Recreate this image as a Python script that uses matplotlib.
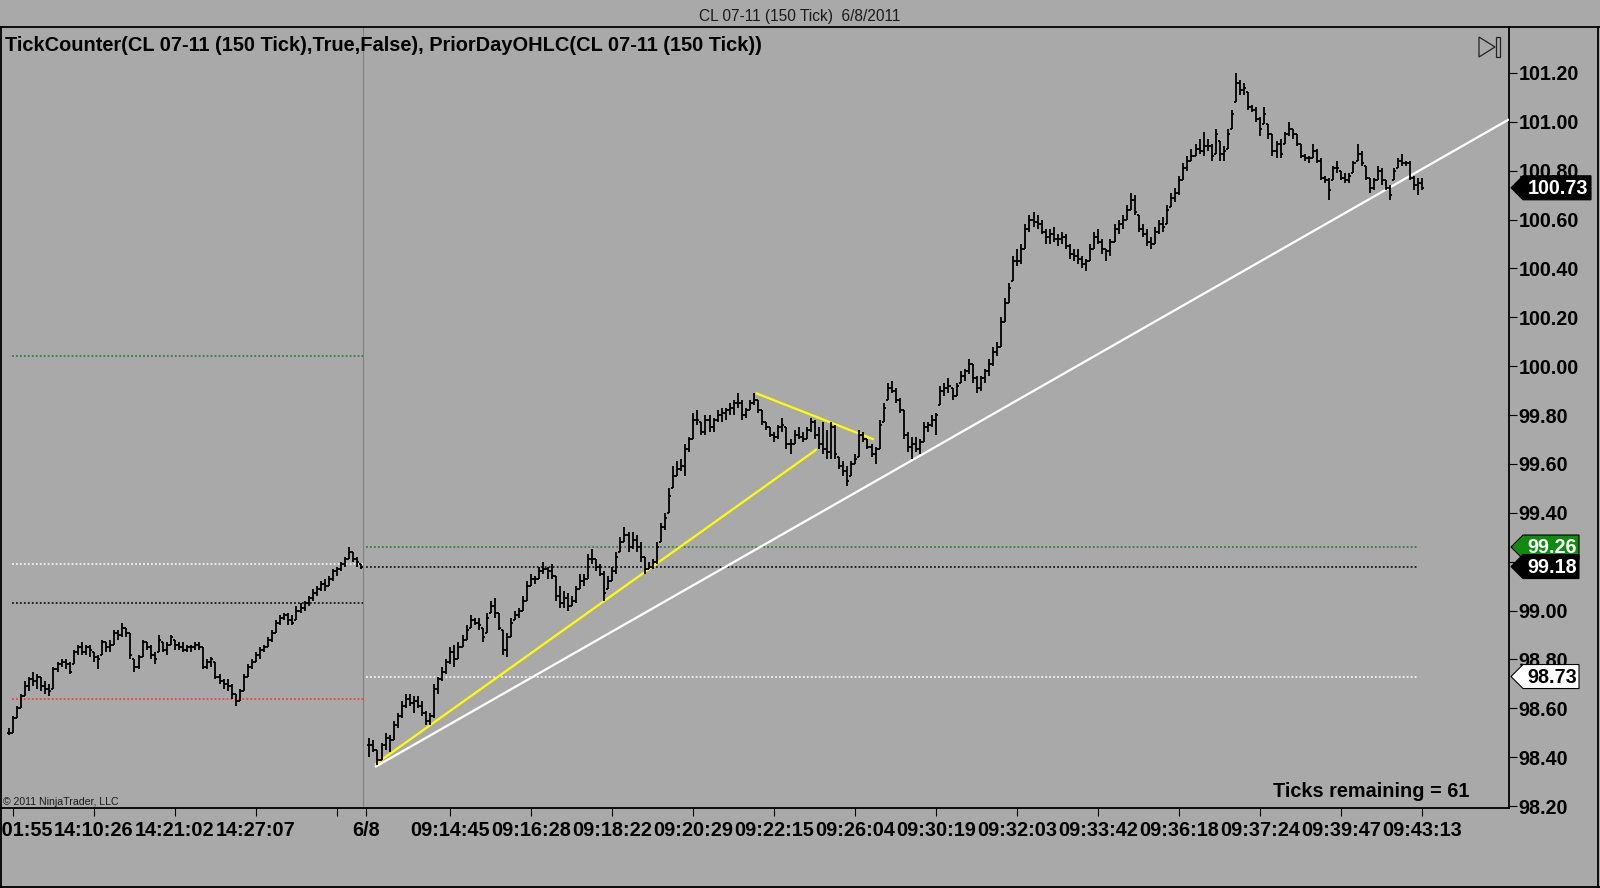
import matplotlib
matplotlib.use("Agg")
import matplotlib.pyplot as plt
from matplotlib.collections import LineCollection
from matplotlib.patches import Polygon, Rectangle
from matplotlib.lines import Line2D
from matplotlib.transforms import IdentityTransform
import numpy as np

plt.rcParams['font.family'] = ['Liberation Sans', 'DejaVu Sans']

# ---------------- data (prices in cents above 98.00) ----------------
BASE = 98.0
# prior session (6/7) 150-tick bars
HI_PREV = [52, 57, 61, 66, 71, 73, 75, 74, 73, 71,
           70, 77, 79, 80, 80, 79, 84, 86, 87, 86,
           86, 83, 82, 88, 87, 88, 92, 92, 95, 93,
           91, 80, 82, 88, 87, 86, 83, 90, 87, 87,
           90, 88, 87, 87, 86, 86, 87, 87, 85, 80,
           81, 79, 74, 72, 72, 70, 66, 68, 74, 78,
           80, 83, 85, 86, 89, 92, 96, 98, 99, 99,
           98, 102, 103, 104, 106, 109, 110, 112, 113, 114,
           117, 118, 120, 122, 126, 124, 122, 119]
LO_PREV = [49, 50, 56, 60, 65, 67, 69, 68, 67, 66,
           65, 68, 75, 77, 76, 74, 78, 82, 82, 82,
           81, 79, 76, 82, 83, 83, 86, 88, 89, 89,
           80, 75, 76, 81, 84, 80, 78, 83, 83, 82,
           86, 84, 84, 83, 83, 83, 84, 84, 76, 76,
           77, 72, 70, 68, 67, 64, 61, 63, 67, 73,
           76, 79, 80, 83, 85, 87, 91, 94, 96, 94,
           94, 96, 99, 100, 102, 104, 106, 108, 108, 110,
           112, 114, 116, 118, 121, 120, 118, 117]
CL_PREV = [50, 56, 60, 65, 69, 72, 71, 73, 69, 68,
           67, 76, 78, 79, 78, 75, 83, 85, 83, 85,
           84, 81, 80, 87, 85, 86, 91, 90, 93, 91,
           82, 77, 81, 87, 85, 82, 80, 88, 84, 86,
           89, 86, 85, 84, 85, 85, 86, 85, 77, 79,
           80, 73, 71, 70, 69, 66, 63, 67, 73, 77,
           79, 82, 84, 85, 88, 91, 95, 97, 98, 96,
           95, 100, 101, 103, 105, 107, 109, 111, 110, 113,
           116, 117, 119, 121, 124, 121, 120, 118]

# current session (6/8) 150-tick bars
HI_CUR = [48, 47, 43, 46, 50, 49, 55, 58, 63, 66,
          66, 65, 65, 63, 59, 58, 70, 73, 77, 80,
          85, 86, 87, 90, 94, 98, 97, 97, 93, 99,
          104, 105, 99, 92, 91, 97, 100, 101, 106, 112,
          115, 114, 118, 120, 118, 119, 114, 110, 108, 107,
          106, 110, 115, 115, 123, 125, 121, 119, 116, 114,
          118, 124, 130, 134, 132, 132, 131, 128, 122, 120,
          121, 128, 136, 140, 150, 159, 161, 162, 168, 171,
          181, 182, 177, 180, 180, 179, 182, 183, 183, 185,
          186, 189, 186, 183, 186, 189, 186, 182, 177, 175,
          173, 176, 179, 175, 170, 174, 175, 173, 175, 179,
          178, 175, 177, 174, 177, 176, 163, 161, 159, 161,
          164, 174, 173, 170, 168, 167, 178, 185, 193, 194,
          191, 187, 182, 173, 171, 171, 170, 177, 177, 180,
          181, 192, 193, 195, 191, 193, 198, 199, 203, 201,
          196, 196, 199, 203, 208, 210, 220, 228, 234, 245,
          248, 250, 258, 262, 263, 262, 260, 256, 256, 257,
          254, 255, 254, 250, 248, 248, 245, 244, 250, 255,
          256, 252, 248, 252, 258, 260, 262, 266, 271, 270,
          262, 258, 256, 253, 257, 260, 261, 266, 271, 273,
          278, 283, 286, 289, 291, 293, 296, 293, 291, 297,
          292, 290, 297, 305, 320, 317, 316, 312, 307, 306,
          302, 306, 299, 295, 292, 293, 296, 300, 297, 295,
          291, 287, 286, 291, 289, 285, 278, 277, 282, 284,
          280, 279, 279, 284, 291, 288, 282, 277, 277, 282,
          281, 276, 274, 281, 285, 287, 284, 284, 278, 277,
          277]
LO_CUR = [40, 42, 37, 39, 43, 42, 47, 52, 56, 60,
          61, 58, 60, 57, 53, 53, 56, 66, 71, 74,
          78, 77, 80, 85, 88, 93, 94, 92, 87, 91,
          99, 97, 92, 82, 81, 89, 96, 97, 100, 104,
          110, 111, 113, 115, 113, 113, 104, 101, 101, 100,
          102, 103, 109, 110, 113, 119, 116, 114, 104, 109,
          112, 115, 124, 128, 124, 125, 124, 120, 115, 117,
          117, 119, 128, 133, 140, 150, 155, 157, 155, 165,
          170, 176, 172, 172, 173, 173, 177, 177, 178, 180,
          180, 183, 178, 179, 182, 184, 181, 176, 174, 171,
          169, 170, 173, 166, 164, 168, 170, 169, 170, 173,
          170, 166, 164, 162, 162, 162, 158, 155, 151, 155,
          160, 163, 169, 166, 163, 160, 166, 177, 186, 189,
          185, 181, 170, 165, 162, 165, 164, 169, 173, 175,
          172, 184, 188, 189, 186, 188, 193, 194, 197, 193,
          189, 190, 193, 196, 200, 204, 208, 218, 226, 235,
          241, 242, 248, 255, 257, 256, 254, 250, 250, 251,
          249, 250, 248, 244, 243, 242, 240, 239, 243, 248,
          250, 246, 243, 245, 251, 254, 256, 260, 264, 262,
          255, 253, 249, 248, 250, 254, 255, 258, 265, 267,
          270, 276, 280, 284, 286, 287, 286, 288, 284, 287,
          284, 284, 289, 297, 308, 311, 311, 305, 304, 300,
          294, 299, 293, 286, 285, 285, 291, 294, 293, 290,
          285, 284, 283, 285, 283, 276, 275, 268, 276, 279,
          276, 275, 275, 279, 284, 282, 276, 271, 272, 276,
          274, 272, 268, 276, 281, 282, 282, 276, 272, 270,
          272]
CL_CUR = [45, 43, 39, 45, 48, 47, 53, 57, 61, 64,
          62, 63, 61, 58, 55, 57, 68, 72, 75, 79,
          83, 80, 85, 88, 92, 96, 95, 94, 89, 97,
          102, 99, 93, 84, 89, 95, 98, 100, 104, 110,
          113, 113, 116, 117, 116, 114, 106, 103, 105, 102,
          104, 109, 112, 113, 121, 121, 118, 115, 107, 112,
          116, 122, 128, 131, 126, 129, 126, 122, 117, 118,
          120, 126, 134, 138, 147, 155, 158, 159, 166, 170,
          178, 178, 173, 178, 175, 178, 180, 181, 182, 183,
          185, 185, 180, 182, 185, 186, 182, 177, 175, 172,
          171, 175, 176, 168, 168, 172, 171, 170, 174, 177,
          172, 168, 166, 165, 175, 164, 159, 157, 153, 160,
          162, 172, 170, 167, 164, 166, 176, 183, 191, 190,
          186, 182, 172, 167, 168, 166, 169, 175, 176, 178,
          180, 190, 191, 192, 188, 192, 196, 198, 201, 195,
          191, 195, 198, 201, 206, 208, 218, 226, 232, 243,
          243, 248, 256, 260, 259, 258, 255, 253, 254, 252,
          252, 253, 249, 246, 245, 244, 242, 243, 248, 253,
          251, 248, 247, 251, 256, 258, 260, 264, 268, 263,
          256, 254, 251, 250, 255, 258, 257, 264, 269, 271,
          276, 281, 284, 286, 289, 288, 290, 290, 286, 295,
          287, 288, 295, 303, 316, 313, 314, 306, 305, 301,
          297, 303, 295, 288, 291, 287, 295, 297, 295, 291,
          286, 285, 285, 288, 284, 277, 276, 272, 281, 281,
          277, 276, 278, 283, 287, 283, 277, 273, 276, 280,
          276, 273, 270, 280, 284, 283, 283, 277, 274, 275,
          273]

PREV_START = -89          # bar index of first bar of prior session
SESSION_BREAK = -1.6      # bar index of the session divider

# Prior-day OHLC levels drawn on each session: (price, colour)
LEVELS_PREV = [(100.04, '#1f7a1f'), (99.19, 'white'), (99.03, 'black'), (98.64, '#ff3030')]
LEVELS_CUR = [(99.26, '#1f7a1f'), (99.18, 'black'), (98.73, 'white')]

# hand-drawn trend lines: (bar0, price0, bar1, price1, colour)
TRENDLINES = [(1.4, 98.37, 110.5, 99.66, '#ffff00'),
              (95.4, 99.89, 124.6, 99.70, '#ffff00'),
              (1.4, 98.36, 281.4, 101.01, 'white')]

# price markers on the axis: (price, label, face, text colour)
MARKERS = [(99.26, '99.26', '#118a11', 'white'),
           (99.18, '99.18', 'black', 'white'),
           (98.73, '98.73', 'white', 'black'),
           (100.73, '100.73', 'black', 'white')]

XTICK_POS = [-88, -68, -48, -28, -8, -0.8, 20, 40, 60, 80, 100, 120, 140,
             160, 180, 200, 220, 240, 260]
XTICK_LABELS = ['14:01:55', '14:10:26', '14:21:02', '14:27:07', '', '6/8',
                '09:14:45', '09:16:28', '09:18:22', '09:20:29', '09:22:15',
                '09:26:04', '09:30:19', '09:32:03', '09:33:42', '09:36:18',
                '09:37:24', '09:39:47', '09:43:13']
YTICKS = [98.2, 98.4, 98.6, 98.8, 99.0, 99.2, 99.4, 99.6, 99.8, 100.0,
          100.2, 100.4, 100.6, 100.8, 101.0, 101.2]

TITLE = 'CL 07-11 (150 Tick)  6/8/2011'
INDICATORS = 'TickCounter(CL 07-11 (150 Tick),True,False), PriorDayOHLC(CL 07-11 (150 Tick))'
TICKS_REMAINING = 'Ticks remaining = 61'
COPYRIGHT = '\u00a9 2011 NinjaTrader, LLC'

# ---------------- figure ----------------
W, H = 1600, 888
BG = '#a9a9a9'
fig = plt.figure(figsize=(W / 100, H / 100), dpi=100, facecolor=BG)
px = IdentityTransform()

def fy(y_top):
    return H - y_top

ax_l, ax_r, ax_t, ax_b = 0, 1509, 27, 808
ax = fig.add_axes([ax_l / W, (H - ax_b) / H, (ax_r - ax_l) / W, (ax_b - ax_t) / H])
ax.set_facecolor(BG)
ax.set_xlim(-91.2, 281.4)
ax.set_ylim(98.192, 101.388)

def bars(hi, lo, cl, start):
    segs = []
    prev = None
    for k in range(len(hi)):
        h = BASE + hi[k] / 100
        l = BASE + lo[k] / 100
        c = BASE + cl[k] / 100
        o = c if prev is None else min(max(prev, l), h)
        x = start + k
        segs.append([(x, l), (x, h)])
        segs.append([(x - 0.5, o), (x, o)])
        segs.append([(x, c), (x + 0.5, c)])
        prev = c
    return segs

segs = bars(HI_PREV, LO_PREV, CL_PREV, PREV_START) + bars(HI_CUR, LO_CUR, CL_CUR, 0)
ax.add_collection(LineCollection(segs, colors='black', linewidths=1.3,
                                 capstyle='butt', zorder=4))

# session divider
ax.axvline(SESSION_BREAK, color='#808080', lw=0.8, zorder=1)

# prior day levels
for p, col in LEVELS_PREV:
    ax.plot([PREV_START + 0.7, SESSION_BREAK], [p, p], color=col, lw=1.1,
            linestyle=(0, (1.2, 1.4)), zorder=2)
for p, col in LEVELS_CUR:
    ax.plot([-0.8, 259.0], [p, p], color=col, lw=1.1,
            linestyle=(0, (1.2, 1.4)), zorder=2)

# trend lines
for x0, p0, x1, p1, col in TRENDLINES:
    ax.plot([x0, x1], [p0, p1], color=col, lw=1.6, zorder=3, solid_capstyle='butt')

# axes styling
for side in ['left', 'top']:
    ax.spines[side].set_visible(False)
for side in ['right', 'bottom']:
    ax.spines[side].set_color('black')
    ax.spines[side].set_linewidth(1.3)
ax.yaxis.tick_right()
ax.set_yticks(YTICKS)
ax.set_yticklabels(['%.2f' % v for v in YTICKS], fontsize=14.2, fontweight='bold')
ax.tick_params(axis='y', direction='out', length=6, width=0.8, pad=1, colors='black')
ax.set_xticks(XTICK_POS)
ax.set_xticklabels(XTICK_LABELS, fontsize=14.3, fontweight='bold')
ax.tick_params(axis='x', direction='out', length=6, width=0.8, pad=3, colors='black')

# texts
fig.text(800, fy(20.5), TITLE, transform=px, ha='center', va='baseline',
         fontsize=11.2, color='#1a1a1a')
fig.text(5, fy(51), INDICATORS, transform=px, ha='left', va='baseline',
         fontsize=14.4, fontweight='bold', color='black')
fig.text(1469, fy(797), TICKS_REMAINING, transform=px, ha='right', va='baseline',
         fontsize=14.3, fontweight='bold', color='black')
fig.text(3, fy(805), COPYRIGHT, transform=px, ha='left', va='baseline',
         fontsize=7.6, color='#1a1a1a')

# frame lines
for xs, ys in [([0, W], [fy(27), fy(27)]),
               ([0.7, 0.7], [fy(27), 0]),
               ([0, W], [fy(887.3), fy(887.3)]),
               ([1598.3, 1598.3], [fy(27), 0])]:
    fig.add_artist(Line2D(xs, ys, transform=px, color='black', lw=1.3))

# "go to end" icon
fig.add_artist(Polygon([(1479, fy(37)), (1479, fy(57)), (1495, fy(47))], closed=True,
                       fill=False, edgecolor='#222222', lw=0.9, transform=px))
fig.add_artist(Rectangle((1496, fy(57)), 4, 20, fill=False, edgecolor='#222222',
                         lw=0.9, transform=px))

# price markers on the axis
fig.canvas.draw()
for p, lab, face, tc in MARKERS:
    yc = ax.transData.transform((0, p))[1]
    right = 1579 if len(lab) == 5 else 1591
    poly = Polygon([(1511, yc), (1523, yc + 12), (right, yc + 12), (right, yc - 12),
                    (1523, yc - 12)], closed=True, facecolor=face,
                   edgecolor='black', lw=0.8, transform=px, zorder=5)
    fig.add_artist(poly)
    t = fig.text((1523 + right) / 2 + 1, yc - 0.5, lab, transform=px, ha='center',
                 va='center', fontsize=14.2, fontweight='bold', color=tc, zorder=6)

fig.savefig('out.png', dpi=100, facecolor=BG)
